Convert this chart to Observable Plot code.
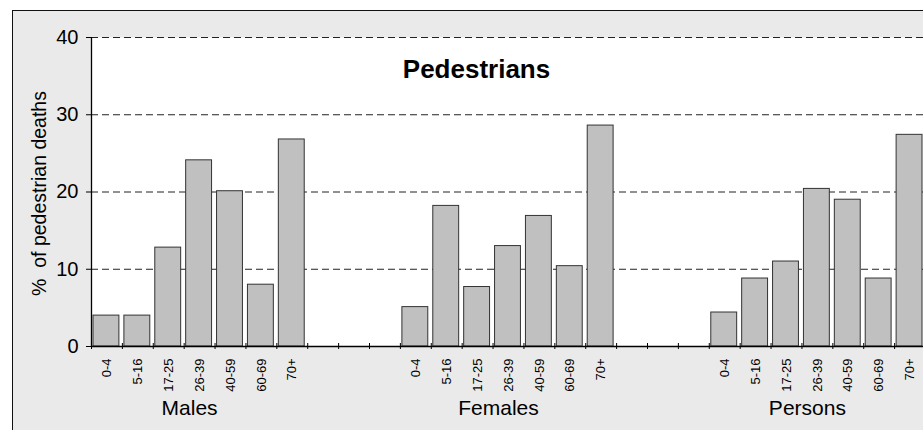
<!DOCTYPE html>
<html><head><meta charset="utf-8">
<script src="https://cdn.jsdelivr.net/npm/d3@7"></script>
<script src="https://cdn.jsdelivr.net/npm/@observablehq/plot@0.6"></script>
<style>
html,body{margin:0;padding:0;background:#fff;overflow:hidden;width:923px;height:430px;}
#bg{position:absolute;left:12px;top:10px;width:1000px;height:500px;background:#eaeaea;border:1.5px solid #111;box-sizing:border-box;}
#chart{position:absolute;left:0;top:0;}
</style></head><body><div id="bg"></div><div id="chart"></div>
<script>
const ages = ["0-4", "5-16", "17-25", "26-39", "40-59", "60-69", "70+"];
const groups = ["Males", "Females", "Persons"];
const males = [4.0, 4.0, 12.8, 24.1, 20.1, 8.0, 26.8];
const females = [5.1, 18.2, 7.7, 13.0, 16.9, 10.4, 28.6];
const persons = [4.4, 8.8, 11.0, 20.4, 19.0, 8.8, 27.4];
const yTicks = [0, 10, 20, 30, 40];
const title = "Pedestrians";
const yLabel = "%\u00a0 of pedestrian deaths";
const gapSlots = 3;

const series = [males, females, persons];
const rows = [];
groups.forEach((g, gi) => series[gi].forEach((v, ai) =>
  rows.push({group: g, age: ages[ai], value: v, slot: gi * (ages.length + gapSlots) + ai})));
const nSlots = groups.length * ages.length + (groups.length - 1) * gapSlots;
const boundaries = d3.range(nSlots + 1);
const groupRows = groups.map((g, gi) => ({group: g, mid: gi * (ages.length + gapSlots) + ages.length / 2}));

const chart = Plot.plot({
  width: 923, height: 430,
  marginLeft: 91, marginRight: 0, marginTop: 37, marginBottom: 84,
  style: {background: "transparent", fontFamily: "'Liberation Sans', Arial, sans-serif", color: "#000", overflow: "visible"},
  x: {domain: [0, nSlots], range: [91, 925], axis: null},
  y: {domain: [0, 40], axis: null},
  marks: [
    Plot.frame({fill: "#fff", stroke: "none"}),
    Plot.ruleY(yTicks.filter(d => d > 0), {stroke: "#222", strokeDasharray: "7,4", strokeWidth: 1}),
    Plot.rectY(rows, {x1: "slot", x2: d => d.slot + 1, y1: d => 0, y2: "value", insetLeft: 2, insetRight: 3, fill: "#c0c0c0", stroke: "#333", strokeWidth: 1}),
    Plot.ruleX(boundaries, {x: d => d, y1: d => 0, y2: d => 0, insetTop: -3, insetBottom: -3, stroke: "#000"}),
    Plot.ruleY([0], {stroke: "#000", strokeWidth: 1.3}),
    Plot.ruleX([0], {stroke: "#000", strokeWidth: 1.3}),
    Plot.axisY({ticks: yTicks, tickSize: 5, tickPadding: 8, fontSize: 20, label: null}),
    Plot.text(rows, {x: d => d.slot + 0.5, y: d => 0, text: "age", rotate: -90, textAnchor: "end", lineAnchor: "middle", dy: 12, fontSize: 13}),
    Plot.text(groupRows, {x: "mid", y: d => 0, text: "group", dx: -10, dy: 61.5, lineAnchor: "middle", fontSize: 21}),
    Plot.text([title], {frameAnchor: "top", text: d => d, dx: -31, dy: 32.5, lineAnchor: "middle", fontSize: 26, fontWeight: "bold"}),
    Plot.text([yLabel], {frameAnchor: "left", text: d => d, rotate: -90, textAnchor: "middle", dx: -52, dy: 1.5, lineAnchor: "middle", fontSize: 19.5})
  ]
});
document.getElementById("chart").appendChild(chart);
</script></body></html>
